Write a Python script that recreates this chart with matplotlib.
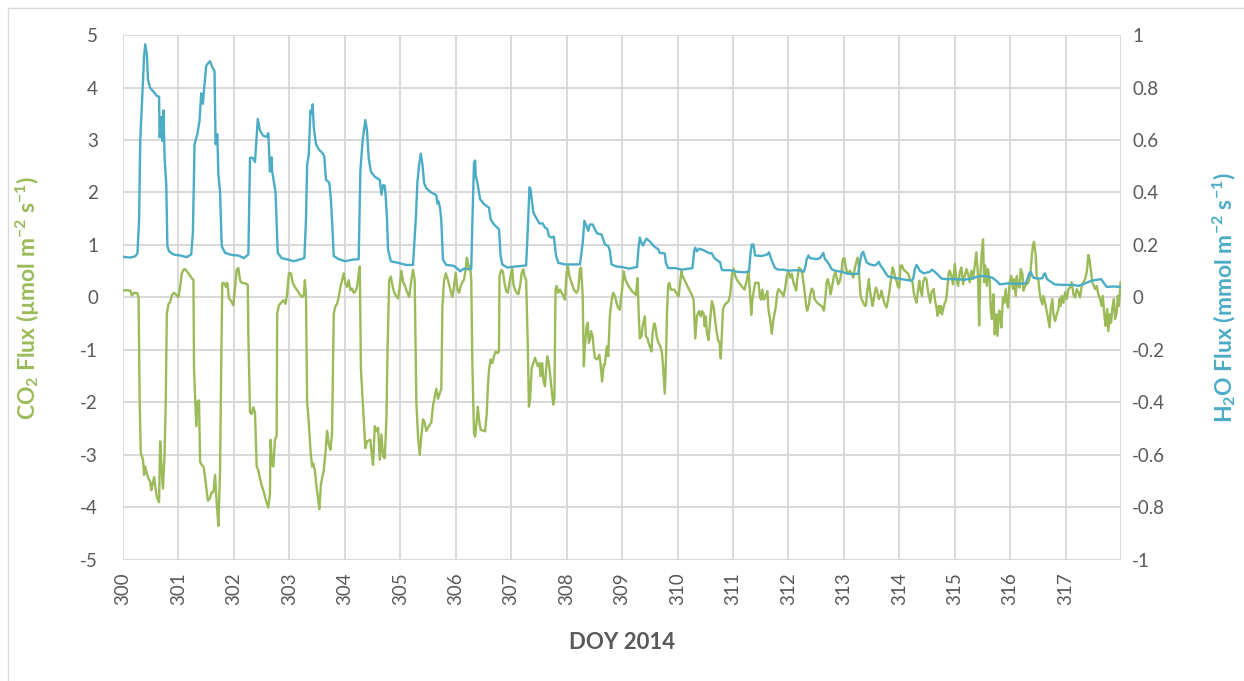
import matplotlib
matplotlib.use("Agg")
import matplotlib.pyplot as plt
from matplotlib.lines import Line2D

# CO2 flux (left axis, umol m-2 s-1)
co2_doy = [
    300.00, 300.07, 300.13, 300.16, 300.20, 300.26, 300.28, 300.30, 300.32, 300.36, 300.38, 300.40, 300.43, 300.46, 300.49, 300.51, 300.53, 300.56, 300.59, 300.61, 300.65, 300.67, 300.69, 300.72, 300.75, 300.77, 300.79, 300.82, 300.85, 300.88, 300.92, 300.97, 301.00, 301.03, 301.06, 301.09, 301.12, 301.18, 301.24, 301.27,
    301.28, 301.32, 301.34, 301.37, 301.39, 301.42, 301.45, 301.48, 301.50, 301.53, 301.56, 301.60, 301.63, 301.66, 301.69, 301.72, 301.75, 301.77, 301.79, 301.82, 301.86, 301.88, 301.91, 301.94, 301.99, 302.02, 302.05, 302.08, 302.11, 302.14, 302.20, 302.25,
    302.26, 302.29, 302.32, 302.35, 302.38, 302.41, 302.44, 302.47, 302.50, 302.53, 302.57, 302.62, 302.65, 302.66, 302.69, 302.71, 302.74, 302.77, 302.78, 302.81, 302.86, 302.89, 302.93, 302.96, 302.99,
    303.03, 303.06, 303.10, 303.14, 303.18, 303.23, 303.26, 303.28, 303.30, 303.32, 303.35, 303.38, 303.41, 303.43, 303.46, 303.49, 303.53, 303.54, 303.57, 303.62, 303.65, 303.68, 303.71, 303.74, 303.77, 303.80, 303.83, 303.86, 303.89, 303.92, 303.95, 303.98, 304.01, 304.04, 304.07, 304.10, 304.13, 304.16, 304.19, 304.22, 304.25, 304.27,
    304.29, 304.34, 304.37, 304.40, 304.46, 304.49, 304.51, 304.54, 304.57, 304.60, 304.63, 304.66, 304.69, 304.72, 304.75, 304.77, 304.80, 304.83, 304.87, 304.90, 304.96, 304.99, 305.02, 305.05, 305.08, 305.11, 305.16, 305.20, 305.23, 305.26,
    305.29, 305.32, 305.35, 305.38, 305.41, 305.44, 305.47, 305.50, 305.56, 305.59, 305.62, 305.65, 305.68, 305.71, 305.74, 305.76, 305.79, 305.82, 305.86, 305.89, 305.94,
    305.97, 306.00, 306.03, 306.06, 306.09, 306.12, 306.15, 306.18, 306.20, 306.22, 306.24, 306.26, 306.28, 306.30, 306.33, 306.35, 306.38, 306.40, 306.42, 306.45, 306.51, 306.53, 306.56, 306.58, 306.60, 306.63, 306.66, 306.69, 306.72, 306.75, 306.78, 306.79, 306.82, 306.85, 306.88, 306.91, 306.94, 306.97, 307.00, 307.02, 307.04, 307.07, 307.10, 307.13, 307.16, 307.19, 307.22, 307.24, 307.27,
    307.30, 307.32, 307.34, 307.37, 307.40, 307.43, 307.46, 307.48, 307.51, 307.53, 307.56, 307.58, 307.61, 307.63, 307.65, 307.68, 307.70, 307.73, 307.76, 307.78, 307.80, 307.82, 307.85, 307.88, 307.91, 307.94, 307.97, 308.00, 308.02, 308.05, 308.09, 308.13, 308.18, 308.21, 308.24, 308.26,
    308.29, 308.31, 308.33, 308.36, 308.38, 308.40, 308.42, 308.44, 308.47, 308.49, 308.51, 308.55, 308.59, 308.61, 308.63, 308.64, 308.67, 308.69, 308.72, 308.73, 308.75, 308.78, 308.81, 308.84, 308.87, 308.90, 308.93, 308.96,
    309.00, 309.03, 309.06, 309.12, 309.18, 309.25, 309.28, 309.30, 309.32, 309.35, 309.37, 309.41, 309.43, 309.46, 309.48, 309.50, 309.53, 309.55, 309.58, 309.60, 309.63, 309.66, 309.69, 309.72, 309.74, 309.76, 309.77, 309.79, 309.81, 309.83, 309.85, 309.88, 309.94, 310.00, 310.02, 310.04, 310.07, 310.09, 310.15, 310.21, 310.26, 310.29,
    310.32, 310.35, 310.37, 310.39, 310.42, 310.44, 310.47, 310.49, 310.51, 310.53, 310.56, 310.59, 310.62, 310.65, 310.67, 310.70, 310.73, 310.76, 310.78, 310.80, 310.82, 310.85, 310.92, 310.95, 310.98, 311.01, 311.04, 311.07, 311.11, 311.16, 311.21, 311.25, 311.28,
    311.31, 311.33, 311.35, 311.38, 311.40, 311.46, 311.49, 311.51, 311.53, 311.56, 311.59, 311.62, 311.64, 311.67, 311.70, 311.73, 311.75, 311.77, 311.80, 311.82, 311.88, 311.91, 311.94, 311.97,
    312.00, 312.03, 312.06, 312.09, 312.12, 312.14, 312.16, 312.19, 312.22, 312.25, 312.28, 312.32, 312.34, 312.37, 312.39, 312.42, 312.45, 312.47, 312.52, 312.59, 312.62, 312.64, 312.67, 312.69, 312.71, 312.74, 312.76, 312.78, 312.80, 312.82, 312.85, 312.87, 312.90, 312.93, 312.96, 312.98, 313.01, 313.03, 313.05, 313.08, 313.11, 313.14, 313.17, 313.20, 313.23, 313.25, 313.27, 313.28,
    313.30, 313.32, 313.35, 313.38, 313.40, 313.42, 313.45, 313.47, 313.50, 313.52, 313.54, 313.56, 313.58, 313.60, 313.63, 313.66, 313.68, 313.71, 313.74, 313.77, 313.80, 313.82, 313.85, 313.88, 313.90, 313.93, 313.95, 313.98, 314.00, 314.02, 314.05, 314.07, 314.10, 314.16, 314.19, 314.24,
    314.26, 314.29, 314.31, 314.34, 314.36, 314.38, 314.41, 314.43, 314.46, 314.49, 314.52, 314.54, 314.56, 314.58, 314.62, 314.64, 314.67, 314.69, 314.71, 314.73, 314.75, 314.77, 314.79, 314.82, 314.84, 314.86, 314.89, 314.91, 314.94, 314.97,
    315.00, 315.03, 315.06, 315.09, 315.12, 315.15, 315.18, 315.21, 315.24, 315.27, 315.30, 315.33, 315.36, 315.39, 315.42, 315.44, 315.46, 315.48, 315.51, 315.53, 315.55, 315.58, 315.60, 315.63, 315.65, 315.67, 315.70, 315.72, 315.75, 315.77, 315.80, 315.82, 315.84, 315.87, 315.89, 315.92, 315.94, 315.96, 315.99,
    316.02, 316.05, 316.07, 316.10, 316.12, 316.14, 316.17, 316.19, 316.22, 316.24, 316.27, 316.33, 316.36, 316.39, 316.41, 316.43, 316.46, 316.48, 316.51, 316.53, 316.55, 316.58, 316.60, 316.63, 316.64, 316.67, 316.69, 316.71, 316.73, 316.76, 316.78, 316.81, 316.84, 316.87, 316.89, 316.91, 316.93, 316.96, 316.99,
    317.02, 317.05, 317.08, 317.11, 317.14, 317.17, 317.20, 317.23, 317.26, 317.29, 317.32, 317.35, 317.38, 317.41, 317.43, 317.46, 317.48, 317.51, 317.53, 317.56, 317.59, 317.62, 317.65, 317.67, 317.70, 317.72, 317.75, 317.77, 317.80, 317.82, 317.84, 317.87, 317.89, 317.92, 317.94, 317.96, 317.99,
]
co2_flux = [
    0.13, 0.14, 0.13, 0.04, 0.09, 0.08, 0.01, -2.00, -2.96, -3.09, -3.38, -3.22, -3.35, -3.45, -3.51, -3.67, -3.58, -3.42, -3.67, -3.80, -3.90, -2.74, -3.16, -3.64, -2.96, -1.99, -0.31, -0.12, -0.09, 0.04, 0.09, 0.04, 0.01, 0.20, 0.46, 0.53, 0.54, 0.46, 0.37, 0.33,
    -1.35, -2.45, -1.99, -1.96, -3.13, -3.19, -3.22, -3.42, -3.61, -3.87, -3.84, -3.71, -3.71, -3.38, -3.93, -4.35, -3.29, -1.35, 0.27, 0.28, 0.20, 0.28, -0.02, -0.05, -0.15, 0.20, 0.53, 0.56, 0.33, 0.28, 0.27, 0.24,
    -0.70, -2.19, -2.22, -2.09, -2.19, -3.22, -3.29, -3.45, -3.58, -3.67, -3.84, -4.00, -3.74, -2.71, -3.19, -3.22, -2.71, -2.64, -0.31, -0.15, -0.09, -0.05, -0.12, 0.07, 0.46,
    0.46, 0.28, 0.20, 0.14, 0.07, 0.01, 0.04, 0.33, 0.01, -1.99, -2.38, -2.90, -3.22, -3.16, -3.29, -3.61, -3.93, -4.03, -3.55, -3.29, -2.96, -2.54, -2.80, -2.90, -2.58, -0.31, -0.17, -0.12, 0.01, 0.20, 0.33, 0.46, 0.27, 0.20, 0.33, 0.14, 0.17, 0.09, 0.11, 0.20, 0.46, 0.59,
    -1.35, -2.32, -2.87, -2.74, -2.71, -3.03, -3.19, -2.45, -2.54, -2.48, -3.09, -2.61, -3.03, -3.06, -2.32, -1.03, 0.33, 0.40, 0.17, 0.07, -0.02, 0.20, 0.51, 0.30, 0.24, 0.14, 0.01, 0.33, 0.53, 0.33,
    -1.99, -2.64, -3.00, -2.64, -2.32, -2.38, -2.54, -2.48, -2.38, -2.06, -1.90, -1.74, -1.93, -1.83, -1.74, -0.18, 0.33, 0.46, 0.33, 0.20, 0.01,
    0.22, 0.47, 0.15, 0.09, 0.22, 0.29, 0.34, 0.54, 0.76, 0.66, 0.54, 0.60, 0.34, -1.25, -2.59, -2.65, -2.33, -2.08, -2.33, -2.52, -2.54, -2.55, -2.20, -1.69, -1.38, -1.18, -1.25, -1.12, -1.03, -1.06, -1.03, 0.41, 0.52, 0.50, 0.28, 0.12, 0.09, 0.28, 0.47, 0.54, 0.25, 0.15, 0.09, 0.06, 0.22, 0.47, 0.54, 0.41, 0.34,
    -0.93, -2.08, -1.95, -1.34, -1.25, -1.15, -1.25, -1.31, -1.25, -1.50, -1.25, -1.57, -1.69, -1.38, -1.12, -1.25, -1.44, -1.76, -2.04, -1.89, 0.15, 0.22, 0.09, 0.15, 0.09, 0.03, -0.04, 0.47, 0.60, 0.41, 0.28, 0.15, 0.09, 0.15, 0.54, 0.57,
    0.03, -1.31, -0.93, -0.55, -0.48, -0.87, -0.80, -0.64, -0.74, -0.99, -1.15, -1.18, -1.09, -1.25, -1.50, -1.60, -1.28, -1.28, -0.96, -0.93, -1.12, -0.36, -0.07, 0.09, 0.03, -0.10, -0.20, -0.23,
    0.15, 0.50, 0.34, 0.21, 0.12, 0.05, 0.37, -0.30, -0.78, -0.74, -0.55, -0.36, -0.74, -0.78, -0.87, -0.93, -1.03, -0.68, -0.49, -0.55, -0.78, -0.87, -0.93, -1.06, -1.32, -1.64, -1.83, -1.25, -0.30, 0.21, 0.28, 0.15, 0.15, 0.05, 0.02, 0.21, 0.50, 0.41, 0.28, 0.15, 0.05, -0.04,
    -0.78, -0.36, -0.30, -0.26, -0.36, -0.26, -0.30, -0.55, -0.36, -0.68, -0.81, -0.42, -0.07, -0.17, -0.36, -0.62, -0.81, -0.87, -1.16, -0.68, -0.23, -0.14, -0.07, 0.05, 0.41, 0.55, 0.41, 0.34, 0.28, 0.21, 0.15, 0.34, 0.50,
    0.05, -0.33, -0.04, 0.15, 0.28, 0.28, -0.01, -0.04, 0.15, -0.04, 0.02, 0.12, -0.23, -0.42, -0.69, -0.42, -0.30, -0.20, 0.09, 0.16, 0.09, 0.02, 0.16, 0.41,
    0.51, 0.38, 0.45, 0.29, 0.19, 0.13, 0.35, 0.57, 0.54, 0.45, 0.22, -0.16, -0.25, -0.13, 0.03, 0.17, 0.13, -0.03, -0.10, -0.16, -0.19, -0.25, 0.03, 0.29, 0.35, 0.22, 0.06, 0.16, 0.29, 0.41, 0.48, 0.38, 0.25, 0.32, 0.51, 0.73, 0.75, 0.61, 0.51, 0.45, 0.51, 0.45, 0.38, 0.57, 0.70, 0.76, 0.61, 0.35,
    0.06, -0.03, -0.10, -0.16, -0.15, 0.10, 0.35, 0.13, -0.06, -0.16, -0.03, 0.11, 0.19, 0.13, -0.03, 0.03, 0.13, -0.03, -0.13, -0.19, -0.03, 0.10, 0.35, 0.57, 0.51, 0.35, 0.32, 0.19, 0.19, 0.61, 0.61, 0.54, 0.51, 0.45, 0.35, 0.29,
    0.10, -0.03, -0.10, 0.16, 0.32, 0.16, 0.03, 0.29, 0.38, 0.35, 0.10, 0.00, -0.10, 0.10, 0.16, -0.03, -0.19, -0.35, -0.16, -0.29, -0.16, -0.32, -0.22, -0.10, -0.06, 0.10, 0.45, 0.51, 0.41, 0.25,
    0.64, 0.35, 0.22, 0.48, 0.57, 0.25, 0.41, 0.54, 0.45, 0.29, 0.51, 0.35, 0.61, 0.86, 0.41, -0.53, 0.38, 0.76, 1.11, 0.29, 0.61, 0.22, 0.54, 0.32, -0.22, -0.41, 0.06, -0.70, -0.32, -0.73, -0.25, -0.29, -0.57, 0.00, -0.10, 0.16, -0.10, -0.19, 0.29,
    0.41, 0.16, 0.35, 0.03, 0.41, 0.22, 0.19, 0.54, 0.45, 0.13, 0.22, 0.29, 0.41, 0.80, 0.99, 1.06, 0.80, 0.38, 0.32, 0.10, -0.03, -0.13, 0.03, -0.10, -0.16, -0.32, -0.45, -0.57, -0.22, -0.03, -0.32, -0.45, -0.32, -0.22, -0.03, -0.16, 0.03, -0.10, 0.10,
    -0.03, 0.16, 0.19, 0.29, 0.06, 0.00, 0.16, 0.10, 0.00, 0.22, 0.29, 0.35, 0.48, 0.81, 0.73, 0.48, 0.29, 0.22, 0.16, 0.22, 0.06, -0.03, -0.16, 0.03, -0.35, -0.54, -0.22, -0.64, -0.32, -0.48, -0.22, -0.03, -0.41, -0.29, 0.03, -0.16, 0.29,
]

# H2O flux (right axis, mmol m-2 s-1)
h2o_doy = [
    300.00, 300.13, 300.22, 300.26, 300.29, 300.31, 300.35, 300.38, 300.40, 300.43, 300.45, 300.49, 300.55, 300.61, 300.65, 300.66, 300.69, 300.71, 300.73, 300.75, 300.78, 300.80, 300.83, 300.91, 301.03, 301.15, 301.23,
    301.26, 301.29, 301.34, 301.38, 301.41, 301.44, 301.46, 301.50, 301.54, 301.57, 301.60, 301.65, 301.67, 301.70, 301.72, 301.75, 301.78, 301.84, 301.96, 302.08, 302.18, 302.26,
    302.29, 302.34, 302.38, 302.43, 302.47, 302.53, 302.59, 302.62, 302.65, 302.68, 302.69, 302.72, 302.75, 302.79, 302.86, 302.98,
    303.08, 303.17, 303.27, 303.30, 303.32, 303.35, 303.38, 303.40, 303.42, 303.44, 303.48, 303.53, 303.59, 303.63, 303.66, 303.72, 303.75, 303.78, 303.80, 303.89, 304.01, 304.13, 304.25,
    304.28, 304.32, 304.37, 304.40, 304.43, 304.47, 304.54, 304.63, 304.66, 304.69, 304.72, 304.74, 304.76, 304.78, 304.83, 304.96, 305.11, 305.23,
    305.28, 305.31, 305.34, 305.37, 305.40, 305.43, 305.47, 305.56, 305.65, 305.67, 305.69, 305.72, 305.74, 305.77, 305.83, 305.92, 305.97,
    306.03, 306.08, 306.15, 306.24, 306.28, 306.30, 306.33, 306.35, 306.36, 306.39, 306.44, 306.51, 306.60, 306.63, 306.69, 306.78, 306.81, 306.84, 306.93, 307.07, 307.27,
    307.30, 307.33, 307.35, 307.37, 307.40, 307.45, 307.51, 307.57, 307.61, 307.65, 307.68, 307.73, 307.77, 307.81, 307.85, 307.97, 308.12, 308.24,
    308.29, 308.32, 308.36, 308.39, 308.42, 308.47, 308.51, 308.55, 308.63, 308.66, 308.69, 308.75, 308.78, 308.81, 308.90,
    309.00, 309.12, 309.27, 309.30, 309.32, 309.35, 309.38, 309.41, 309.44, 309.51, 309.57, 309.65, 309.68, 309.77, 309.79, 309.83, 309.96, 310.08, 310.27,
    310.30, 310.32, 310.35, 310.39, 310.47, 310.56, 310.62, 310.66, 310.71, 310.77, 310.79, 310.81, 310.95, 311.07, 311.22, 311.29,
    311.32, 311.34, 311.37, 311.40, 311.52, 311.62, 311.65, 311.68, 311.73, 311.76, 311.82, 311.91,
    312.00, 312.12, 312.24, 312.28, 312.31, 312.33, 312.36, 312.39, 312.51, 312.57, 312.60, 312.63, 312.66, 312.69, 312.74, 312.78, 312.84, 312.96, 313.08, 313.26,
    313.29, 313.32, 313.35, 313.38, 313.41, 313.47, 313.56, 313.60, 313.63, 313.66, 313.71, 313.76, 313.80, 313.89, 314.04, 314.22,
    314.25, 314.28, 314.31, 314.34, 314.37, 314.44, 314.55, 314.59, 314.64, 314.70, 314.76, 314.85,
    315.00, 315.18, 315.30, 315.42, 315.51, 315.60, 315.69, 315.78, 315.81, 315.96, 316.11, 316.28, 316.31, 316.34, 316.37, 316.40, 316.43, 316.54, 316.58, 316.61, 316.63, 316.66, 316.70, 316.75, 316.80, 316.93, 317.14, 317.23, 317.35, 317.47, 317.59, 317.64, 317.68, 317.74, 317.86, 318.00,
]
h2o_flux = [
    0.155, 0.152, 0.157, 0.168, 0.300, 0.596, 0.778, 0.920, 0.965, 0.926, 0.830, 0.798, 0.784, 0.768, 0.765, 0.610, 0.688, 0.596, 0.713, 0.532, 0.428, 0.196, 0.176, 0.164, 0.160, 0.154, 0.164,
    0.248, 0.584, 0.622, 0.674, 0.778, 0.738, 0.790, 0.882, 0.894, 0.900, 0.882, 0.862, 0.584, 0.622, 0.468, 0.402, 0.196, 0.170, 0.162, 0.160, 0.150, 0.164,
    0.532, 0.532, 0.516, 0.680, 0.636, 0.616, 0.612, 0.626, 0.480, 0.534, 0.480, 0.442, 0.402, 0.170, 0.150, 0.144,
    0.138, 0.144, 0.150, 0.300, 0.506, 0.544, 0.712, 0.700, 0.736, 0.648, 0.584, 0.564, 0.552, 0.538, 0.448, 0.438, 0.370, 0.248, 0.158, 0.146, 0.138, 0.144, 0.146,
    0.480, 0.596, 0.676, 0.636, 0.532, 0.480, 0.460, 0.448, 0.392, 0.428, 0.426, 0.376, 0.300, 0.182, 0.138, 0.132, 0.124, 0.124,
    0.300, 0.442, 0.506, 0.548, 0.506, 0.436, 0.416, 0.400, 0.390, 0.358, 0.366, 0.338, 0.292, 0.144, 0.124, 0.122, 0.120,
    0.110, 0.100, 0.110, 0.108, 0.110, 0.286, 0.514, 0.522, 0.464, 0.438, 0.374, 0.356, 0.342, 0.298, 0.278, 0.260, 0.158, 0.126, 0.114, 0.118, 0.122,
    0.260, 0.420, 0.412, 0.374, 0.324, 0.304, 0.282, 0.282, 0.266, 0.262, 0.234, 0.228, 0.232, 0.158, 0.132, 0.126, 0.126, 0.126,
    0.208, 0.292, 0.272, 0.254, 0.278, 0.278, 0.260, 0.244, 0.240, 0.222, 0.202, 0.196, 0.178, 0.126, 0.118,
    0.116, 0.110, 0.116, 0.196, 0.228, 0.208, 0.198, 0.214, 0.224, 0.212, 0.196, 0.184, 0.170, 0.168, 0.132, 0.112, 0.112, 0.106, 0.112,
    0.176, 0.190, 0.176, 0.186, 0.180, 0.170, 0.168, 0.152, 0.142, 0.134, 0.112, 0.104, 0.104, 0.098, 0.096, 0.100,
    0.176, 0.202, 0.202, 0.160, 0.158, 0.164, 0.172, 0.152, 0.126, 0.112, 0.106, 0.106,
    0.102, 0.104, 0.102, 0.098, 0.122, 0.146, 0.160, 0.150, 0.146, 0.150, 0.160, 0.170, 0.146, 0.140, 0.124, 0.108, 0.102, 0.098, 0.090, 0.090,
    0.134, 0.166, 0.174, 0.152, 0.134, 0.126, 0.122, 0.128, 0.136, 0.122, 0.108, 0.090, 0.080, 0.076, 0.070, 0.064,
    0.070, 0.108, 0.124, 0.114, 0.102, 0.092, 0.098, 0.106, 0.098, 0.086, 0.072, 0.070,
    0.070, 0.068, 0.072, 0.080, 0.082, 0.080, 0.074, 0.058, 0.050, 0.054, 0.052, 0.054, 0.070, 0.090, 0.098, 0.082, 0.074, 0.072, 0.074, 0.090, 0.092, 0.072, 0.064, 0.058, 0.050, 0.048, 0.048, 0.044, 0.054, 0.064, 0.068, 0.070, 0.058, 0.040, 0.042, 0.040,
]

day_ticks = list(range(300, 319))
day_labels = [str(d) for d in range(300, 318)] + ['']
co2_ticks = [-5, -4, -3, -2, -1, 0, 1, 2, 3, 4, 5]
h2o_ticks = [-1, -0.8, -0.6, -0.4, -0.2, 0, 0.2, 0.4, 0.6, 0.8, 1]

green = '#9bbb59'
blue = '#4bacc6'
grey = '#595959'
gridc = '#d9d9d9'

plt.rcParams['font.family'] = ['Lato', 'DejaVu Sans']
plt.rcParams['mathtext.fontset'] = 'custom'
plt.rcParams['mathtext.rm'] = 'Lato'
plt.rcParams['mathtext.it'] = 'Lato:italic'
plt.rcParams['mathtext.bf'] = 'Lato:bold'

fig = plt.figure(figsize=(12.44, 6.81), dpi=100)
ax = fig.add_axes([0.0989, 0.1777, 0.8023, 0.7709])

ax.plot(co2_doy, co2_flux, color=green, lw=1.7, zorder=3)
ax.set_xlim(300, 318)
ax.set_ylim(-5, 5)
ax.set_xticks(day_ticks)
ax.set_xticklabels(day_labels, rotation=90)
ax.set_yticks(co2_ticks)
ax.set_yticklabels([str(v) for v in co2_ticks])
ax.grid(True, color=gridc, lw=1.4)
ax.set_axisbelow(True)
for s in ax.spines.values():
    s.set_visible(False)
ax.tick_params(axis='y', length=0, colors=grey, labelsize=13.5, pad=18)
ax.tick_params(axis='x', length=0, colors=grey, labelsize=13.5, pad=9)

ax.set_ylabel(r'CO$_\mathbf{2}$ Flux (µmol m$^{\mathbf{-2}}$ s$^{\mathbf{-1}}$)',
              color=green, fontsize=16.5, fontweight='bold')
ax.yaxis.set_label_coords(-0.081, 0.5)
ax.set_xlabel('DOY 2014', color=grey, fontsize=16, fontweight='bold')
ax.xaxis.set_label_coords(0.5, -0.138)

ax2 = ax.twinx()
ax2.plot(h2o_doy, h2o_flux, color=blue, lw=1.7)
ax2.set_ylim(-1, 1)
ax2.set_yticks(h2o_ticks)
ax2.set_yticklabels([f'{v:g}' for v in h2o_ticks])
for s in ax2.spines.values():
    s.set_visible(False)
ax2.tick_params(axis='y', length=0, colors=grey, labelsize=13.5, pad=8)
ax2.set_ylabel(r'H$_\mathbf{2}$O Flux (mmol m$^{\mathbf{-2}}$ s$^{\mathbf{-1}}$)',
               color=blue, fontsize=16.5, fontweight='bold', rotation=90)
ax2.yaxis.set_label_coords(1.089, 0.5)

# thin chart-area frame
fig.add_artist(Line2D([8 / 1244, 8 / 1244], [0, 1 - 8 / 681], color=gridc, lw=1.0))
fig.add_artist(Line2D([8 / 1244, 1], [1 - 8 / 681, 1 - 8 / 681], color=gridc, lw=1.0))

fig.savefig('out.png', dpi=100)
